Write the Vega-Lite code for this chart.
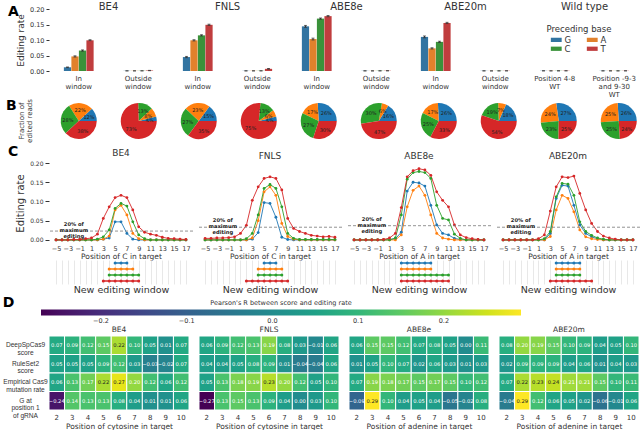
{
  "$schema": "https://vega.github.io/schema/vega-lite/v6.json",
  "padding": {"left": 2, "right": 0, "top": 2, "bottom": 0},
  "background": "white",
  "config": {
    "font": "DejaVu Sans",
    "view": {"stroke": null},
    "axis": {"labelColor": "#333", "titleColor": "#333", "labelFontSize": 7, "titleFontSize": 8, "titleFontWeight": "normal", "domain": false, "tickColor": "#333", "grid": false, "labelOverlap": false},
    "header": {"labelColor": "#333", "labelFontSize": 10},
    "title": {"fontWeight": "normal", "fontSize": 9, "color": "#333"}
  },
  "resolve": {"scale": {"color": "independent"}},
  "spacing": 2,
  "datasets": {
    "bars": [
      {"enz":"BE4","win":"In|window","base":"G","rate":0.012,"lo":0.011,"hi":0.013},
      {"enz":"BE4","win":"In|window","base":"A","rate":0.047,"lo":0.045,"hi":0.049},
      {"enz":"BE4","win":"In|window","base":"C","rate":0.066,"lo":0.064,"hi":0.068},
      {"enz":"BE4","win":"In|window","base":"T","rate":0.099,"lo":0.098,"hi":0.101},
      {"enz":"BE4","win":"Outside|window","base":"G","rate":0.0005,"lo":0.0003,"hi":0.0007},
      {"enz":"BE4","win":"Outside|window","base":"A","rate":0.0005,"lo":0.0003,"hi":0.0007},
      {"enz":"BE4","win":"Outside|window","base":"C","rate":0.0006,"lo":0.0004,"hi":0.0008},
      {"enz":"BE4","win":"Outside|window","base":"T","rate":0.0015,"lo":0.001,"hi":0.002},
      {"enz":"FNLS","win":"In|window","base":"G","rate":0.045,"lo":0.043,"hi":0.047},
      {"enz":"FNLS","win":"In|window","base":"A","rate":0.099,"lo":0.097,"hi":0.101},
      {"enz":"FNLS","win":"In|window","base":"C","rate":0.115,"lo":0.113,"hi":0.117},
      {"enz":"FNLS","win":"In|window","base":"T","rate":0.149,"lo":0.147,"hi":0.151},
      {"enz":"FNLS","win":"Outside|window","base":"G","rate":0.0005,"lo":0.0003,"hi":0.0007},
      {"enz":"FNLS","win":"Outside|window","base":"A","rate":0.0005,"lo":0.0003,"hi":0.0007},
      {"enz":"FNLS","win":"Outside|window","base":"C","rate":0.0006,"lo":0.0004,"hi":0.0008},
      {"enz":"FNLS","win":"Outside|window","base":"T","rate":0.007,"lo":0.006,"hi":0.008},
      {"enz":"ABE8e","win":"In|window","base":"G","rate":0.144,"lo":0.141,"hi":0.147},
      {"enz":"ABE8e","win":"In|window","base":"A","rate":0.103,"lo":0.1,"hi":0.106},
      {"enz":"ABE8e","win":"In|window","base":"C","rate":0.169,"lo":0.167,"hi":0.171},
      {"enz":"ABE8e","win":"In|window","base":"T","rate":0.177,"lo":0.175,"hi":0.179},
      {"enz":"ABE8e","win":"Outside|window","base":"G","rate":0.0005,"lo":0.0003,"hi":0.0007},
      {"enz":"ABE8e","win":"Outside|window","base":"A","rate":0.0004,"lo":0.0002,"hi":0.0006},
      {"enz":"ABE8e","win":"Outside|window","base":"C","rate":0.0006,"lo":0.0004,"hi":0.0008},
      {"enz":"ABE8e","win":"Outside|window","base":"T","rate":0.0008,"lo":0.0006,"hi":0.001},
      {"enz":"ABE20m","win":"In|window","base":"G","rate":0.11,"lo":0.107,"hi":0.113},
      {"enz":"ABE20m","win":"In|window","base":"A","rate":0.073,"lo":0.071,"hi":0.075},
      {"enz":"ABE20m","win":"In|window","base":"C","rate":0.094,"lo":0.092,"hi":0.096},
      {"enz":"ABE20m","win":"In|window","base":"T","rate":0.155,"lo":0.153,"hi":0.157},
      {"enz":"ABE20m","win":"Outside|window","base":"G","rate":0.0005,"lo":0.0003,"hi":0.0007},
      {"enz":"ABE20m","win":"Outside|window","base":"A","rate":0.0003,"lo":0.0002,"hi":0.0005},
      {"enz":"ABE20m","win":"Outside|window","base":"C","rate":0.0005,"lo":0.0003,"hi":0.0007},
      {"enz":"ABE20m","win":"Outside|window","base":"T","rate":0.0006,"lo":0.0004,"hi":0.0008},
      {"enz":"Wild type","win":"Position 4-8| |WT","base":"G","rate":0.0006,"lo":0.0004,"hi":0.0008},
      {"enz":"Wild type","win":"Position 4-8| |WT","base":"A","rate":0.0005,"lo":0.0003,"hi":0.0007},
      {"enz":"Wild type","win":"Position 4-8| |WT","base":"C","rate":0.0006,"lo":0.0004,"hi":0.0008},
      {"enz":"Wild type","win":"Position 4-8| |WT","base":"T","rate":0.0007,"lo":0.0005,"hi":0.0009},
      {"enz":"Wild type","win":"Position -9-3|and 9-30|WT","base":"G","rate":0.0005,"lo":0.0003,"hi":0.0007},
      {"enz":"Wild type","win":"Position -9-3|and 9-30|WT","base":"A","rate":0.0005,"lo":0.0003,"hi":0.0007},
      {"enz":"Wild type","win":"Position -9-3|and 9-30|WT","base":"C","rate":0.0005,"lo":0.0003,"hi":0.0007},
      {"enz":"Wild type","win":"Position -9-3|and 9-30|WT","base":"T","rate":0.0006,"lo":0.0004,"hi":0.0008}
    ],
    "pies": [
      {"col":1,"base":"G","idx":0,"pct":12,"lab":"12%"},{"col":1,"base":"A","idx":1,"pct":22,"lab":"22%"},{"col":1,"base":"C","idx":2,"pct":28,"lab":"28%"},{"col":1,"base":"T","idx":3,"pct":38,"lab":"38%"},
      {"col":2,"base":"G","idx":0,"pct":4,"lab":"4%"},{"col":2,"base":"A","idx":1,"pct":8,"lab":"8%"},{"col":2,"base":"C","idx":2,"pct":13,"lab":"13%"},{"col":2,"base":"T","idx":3,"pct":73,"lab":"73%"},
      {"col":3,"base":"G","idx":0,"pct":15,"lab":"15%"},{"col":3,"base":"A","idx":1,"pct":23,"lab":"23%"},{"col":3,"base":"C","idx":2,"pct":27,"lab":"27%"},{"col":3,"base":"T","idx":3,"pct":35,"lab":"35%"},
      {"col":4,"base":"G","idx":0,"pct":4,"lab":"4%"},{"col":4,"base":"A","idx":1,"pct":6,"lab":"6%"},{"col":4,"base":"C","idx":2,"pct":13,"lab":"13%"},{"col":4,"base":"T","idx":3,"pct":75,"lab":"75%"},
      {"col":5,"base":"G","idx":0,"pct":26,"lab":"26%"},{"col":5,"base":"A","idx":1,"pct":17,"lab":"17%"},{"col":5,"base":"C","idx":2,"pct":27,"lab":"27%"},{"col":5,"base":"T","idx":3,"pct":30,"lab":"30%"},
      {"col":6,"base":"G","idx":0,"pct":16,"lab":"16%"},{"col":6,"base":"A","idx":1,"pct":6,"lab":"6%"},{"col":6,"base":"C","idx":2,"pct":30,"lab":"30%"},{"col":6,"base":"T","idx":3,"pct":47,"lab":"47%"},
      {"col":7,"base":"G","idx":0,"pct":26,"lab":"26%"},{"col":7,"base":"A","idx":1,"pct":17,"lab":"17%"},{"col":7,"base":"C","idx":2,"pct":25,"lab":"25%"},{"col":7,"base":"T","idx":3,"pct":33,"lab":"33%"},
      {"col":8,"base":"G","idx":0,"pct":18,"lab":"18%"},{"col":8,"base":"A","idx":1,"pct":7,"lab":"7%"},{"col":8,"base":"C","idx":2,"pct":19,"lab":"19%"},{"col":8,"base":"T","idx":3,"pct":54,"lab":"54%"},
      {"col":9,"base":"G","idx":0,"pct":27,"lab":"27%"},{"col":9,"base":"A","idx":1,"pct":24,"lab":"24%"},{"col":9,"base":"C","idx":2,"pct":23,"lab":"23%"},{"col":9,"base":"T","idx":3,"pct":25,"lab":"25%"},
      {"col":10,"base":"G","idx":0,"pct":26,"lab":"26%"},{"col":10,"base":"A","idx":1,"pct":25,"lab":"25%"},{"col":10,"base":"C","idx":2,"pct":25,"lab":"25%"},{"col":10,"base":"T","idx":3,"pct":24,"lab":"24%"}
    ],
    "lines": [
      {"enz":"BE4","base":"G","pos":[-5,-4,-3,-2,-1,0,1,2,3,4,5,6,7,8,9,10,11,12,13,14,15,16,17],"rate":[0,0,0,0,0,0,0,0,0.002,0.005,0.047,0.047,0.017,0.002,0,0,0,0,0,0,0,0,0]},
      {"enz":"BE4","base":"A","pos":[-5,-4,-3,-2,-1,0,1,2,3,4,5,6,7,8,9,10,11,12,13,14,15,16,17],"rate":[0,0,0,0,0,0,0,0,0.002,0.01,0.078,0.09,0.065,0.017,0.003,0,0,0,0,0,0,0,0]},
      {"enz":"BE4","base":"C","pos":[-5,-4,-3,-2,-1,0,1,2,3,4,5,6,7,8,9,10,11,12,13,14,15,16,17],"rate":[0,0,0,0,0,0,0,0.002,0.008,0.026,0.082,0.095,0.088,0.047,0.013,0.003,0,0,0,0,0,0,0]},
      {"enz":"BE4","base":"T","pos":[-5,-4,-3,-2,-1,0,1,2,3,4,5,6,7,8,9,10,11,12,13,14,15,16,17],"rate":[0,0,0,0.001,0.001,0.003,0.005,0.015,0.056,0.086,0.11,0.116,0.11,0.078,0.034,0.02,0.015,0.012,0.007,0.004,0.003,0.002,0.001]},
      {"enz":"FNLS","base":"G","pos":[-5,-4,-3,-2,-1,0,1,2,3,4,5,6,7,8,9,10,11,12,13,14,15,16,17],"rate":[0,0,0,0,0,0,0,0,0.002,0.019,0.097,0.095,0.059,0.007,0.001,0,0,0,0,0,0,0,0]},
      {"enz":"FNLS","base":"A","pos":[-5,-4,-3,-2,-1,0,1,2,3,4,5,6,7,8,9,10,11,12,13,14,15,16,17],"rate":[0,0,0,0,0,0,0,0,0.005,0.05,0.125,0.138,0.116,0.043,0.009,0.002,0,0,0,0,0,0,0]},
      {"enz":"FNLS","base":"C","pos":[-5,-4,-3,-2,-1,0,1,2,3,4,5,6,7,8,9,10,11,12,13,14,15,16,17],"rate":[0,0,0,0,0,0,0,0.003,0.017,0.065,0.134,0.144,0.134,0.086,0.017,0.004,0.001,0.001,0.001,0.001,0.001,0.001,0.001]},
      {"enz":"FNLS","base":"T","pos":[-5,-4,-3,-2,-1,0,1,2,3,4,5,6,7,8,9,10,11,12,13,14,15,16,17],"rate":[0.004,0.004,0.005,0.005,0.006,0.008,0.017,0.038,0.103,0.138,0.16,0.164,0.16,0.13,0.056,0.03,0.022,0.017,0.012,0.01,0.008,0.009,0.007]},
      {"enz":"ABE8e","base":"G","pos":[-5,-4,-3,-2,-1,0,1,2,3,4,5,6,7,8,9,10,11,12,13,14,15,16,17],"rate":[0,0,0,0,0,0,0.001,0.003,0.02,0.127,0.15,0.148,0.14,0.09,0.039,0.017,0.013,0.004,0.001,0,0,0,0]},
      {"enz":"ABE8e","base":"A","pos":[-5,-4,-3,-2,-1,0,1,2,3,4,5,6,7,8,9,10,11,12,13,14,15,16,17],"rate":[0,0,0,0,0,0,0,0,0.013,0.086,0.129,0.14,0.116,0.065,0.017,0.005,0.002,0,0,0,0,0,0]},
      {"enz":"ABE8e","base":"C","pos":[-5,-4,-3,-2,-1,0,1,2,3,4,5,6,7,8,9,10,11,12,13,14,15,16,17],"rate":[0,0,0,0,0,0,0,0.005,0.065,0.158,0.175,0.178,0.175,0.16,0.09,0.056,0.052,0.015,0.004,0,0,0,0]},
      {"enz":"ABE8e","base":"T","pos":[-5,-4,-3,-2,-1,0,1,2,3,4,5,6,7,8,9,10,11,12,13,14,15,16,17],"rate":[0,0,0,0,0,0.001,0.005,0.017,0.084,0.164,0.18,0.185,0.182,0.168,0.125,0.103,0.086,0.039,0.013,0.006,0.003,0.001,0]},
      {"enz":"ABE20m","base":"G","pos":[-5,-4,-3,-2,-1,0,1,2,3,4,5,6,7,8,9,10,11,12,13,14,15,16,17],"rate":[0,0,0,0,0,0,0,0,0.017,0.108,0.142,0.14,0.09,0.039,0.017,0.008,0.003,0,0,0,0,0,0]},
      {"enz":"ABE20m","base":"A","pos":[-5,-4,-3,-2,-1,0,1,2,3,4,5,6,7,8,9,10,11,12,13,14,15,16,17],"rate":[0,0,0,0,0,0,0,0,0.009,0.078,0.116,0.108,0.073,0.026,0.008,0.003,0.001,0,0,0,0,0,0]},
      {"enz":"ABE20m","base":"C","pos":[-5,-4,-3,-2,-1,0,1,2,3,4,5,6,7,8,9,10,11,12,13,14,15,16,17],"rate":[0,0,0,0,0,0,0,0.003,0.022,0.112,0.147,0.145,0.116,0.047,0.022,0.012,0.005,0.002,0,0,0,0,0]},
      {"enz":"ABE20m","base":"T","pos":[-5,-4,-3,-2,-1,0,1,2,3,4,5,6,7,8,9,10,11,12,13,14,15,16,17],"rate":[0,0,0,0,0,0,0.003,0.013,0.075,0.138,0.164,0.162,0.166,0.121,0.078,0.043,0.022,0.01,0.005,0.002,0,0,0]}
    ],
    "thr": [
      {"enz":"BE4","thr":0.023,"pos":-2,"txt":"20% of|maximum|editing"},
      {"enz":"FNLS","thr":0.033,"pos":-2,"txt":"20% of|maximum|editing"},
      {"enz":"ABE8e","thr":0.037,"pos":-2,"txt":"20% of|maximum|editing"},
      {"enz":"ABE20m","thr":0.033,"pos":-2,"txt":"20% of|maximum|editing"}
    ],
    "win": [
      {"enz":"BE4","base":"G","pos":[5,6,7]},
      {"enz":"BE4","base":"A","pos":[4,5,6,7,8]},
      {"enz":"BE4","base":"C","pos":[4,5,6,7,8,9]},
      {"enz":"BE4","base":"T","pos":[3,4,5,6,7,8,9]},
      {"enz":"FNLS","base":"G","pos":[5,6,7]},
      {"enz":"FNLS","base":"A","pos":[4,5,6,7,8]},
      {"enz":"FNLS","base":"C","pos":[4,5,6,7,8]},
      {"enz":"FNLS","base":"T","pos":[2,3,4,5,6,7,8,9]},
      {"enz":"ABE8e","base":"G","pos":[3,4,5,6,7,8]},
      {"enz":"ABE8e","base":"A","pos":[3,4,5,6,7,8]},
      {"enz":"ABE8e","base":"C","pos":[3,4,5,6,7,8,9,10,11]},
      {"enz":"ABE8e","base":"T","pos":[3,4,5,6,7,8,9,10,11]},
      {"enz":"ABE20m","base":"G","pos":[4,5,6,7,8]},
      {"enz":"ABE20m","base":"A","pos":[4,5,6,7,8]},
      {"enz":"ABE20m","base":"C","pos":[4,5,6,7,8]},
      {"enz":"ABE20m","base":"T","pos":[3,4,5,6,7,8,9,10]}
    ],
    "heat": [
      {"enz":"BE4","score":"DeepSpCas9|score","pos":[2,3,4,5,6,7,8,9,10],"r":[0.07,0.09,0.12,0.15,0.22,0.10,0.05,0.01,0.07]},
      {"enz":"BE4","score":"RuleSet2|score","pos":[2,3,4,5,6,7,8,9,10],"r":[0.05,0.05,0.05,0.09,0.12,0.03,-0.03,-0.02,0.07]},
      {"enz":"BE4","score":"Empirical Cas9|mutation rate","pos":[2,3,4,5,6,7,8,9,10],"r":[0.06,0.13,0.17,0.22,0.27,0.20,0.12,0.06,0.12]},
      {"enz":"BE4","score":"G at|position 1|of gRNA","pos":[2,3,4,5,6,7,8,9,10],"r":[-0.24,0.14,0.13,0.13,0.08,0.04,0.01,0.01,0.06]},
      {"enz":"FNLS","score":"DeepSpCas9|score","pos":[2,3,4,5,6,7,8,9,10],"r":[0.06,0.09,0.12,0.13,0.19,0.08,0.03,-0.01,0.06]},
      {"enz":"FNLS","score":"RuleSet2|score","pos":[2,3,4,5,6,7,8,9,10],"r":[0.04,0.04,0.05,0.08,0.09,0.01,-0.04,-0.04,0.06]},
      {"enz":"FNLS","score":"Empirical Cas9|mutation rate","pos":[2,3,4,5,6,7,8,9,10],"r":[0.05,0.13,0.18,0.19,0.23,0.20,0.12,0.05,0.10]},
      {"enz":"FNLS","score":"G at|position 1|of gRNA","pos":[2,3,4,5,6,7,8,9,10],"r":[-0.27,0.13,0.15,0.13,0.09,0.04,0.00,0.03,0.10]},
      {"enz":"ABE8e","score":"DeepSpCas9|score","pos":[2,3,4,5,6,7,8,9,10],"r":[0.06,0.15,0.15,0.12,0.07,0.08,0.05,0.00,0.11]},
      {"enz":"ABE8e","score":"RuleSet2|score","pos":[2,3,4,5,6,7,8,9,10],"r":[0.01,0.05,0.10,0.07,0.02,0.06,0.03,0.01,0.03]},
      {"enz":"ABE8e","score":"Empirical Cas9|mutation rate","pos":[2,3,4,5,6,7,8,9,10],"r":[0.07,0.19,0.18,0.17,0.15,0.17,0.15,0.10,0.12]},
      {"enz":"ABE8e","score":"G at|position 1|of gRNA","pos":[2,3,4,5,6,7,8,9,10],"r":[-0.09,0.29,0.10,0.04,0.05,0.04,-0.05,-0.02,0.08]},
      {"enz":"ABE20m","score":"DeepSpCas9|score","pos":[2,3,4,5,6,7,8,9,10],"r":[0.08,0.20,0.19,0.15,0.10,0.09,0.04,0.05,0.10]},
      {"enz":"ABE20m","score":"RuleSet2|score","pos":[2,3,4,5,6,7,8,9,10],"r":[0.02,0.09,0.09,0.09,0.04,0.06,0.01,0.04,0.03]},
      {"enz":"ABE20m","score":"Empirical Cas9|mutation rate","pos":[2,3,4,5,6,7,8,9,10],"r":[0.07,0.22,0.23,0.24,0.21,0.21,0.15,0.10,0.11]},
      {"enz":"ABE20m","score":"G at|position 1|of gRNA","pos":[2,3,4,5,6,7,8,9,10],"r":[-0.04,0.29,0.12,0.06,0.05,0.02,-0.06,-0.01,0.06]}
    ]
  },
  "vconcat": [
    {
      "data": {"name": "bars"},
      "title": {"text": "A", "anchor": "start", "frame": "group", "fontSize": 14, "fontWeight": "bold", "color": "black", "dy": 21, "dx": -41},
      "facet": {"column": {"field": "enz", "type": "nominal", "sort": ["BE4","FNLS","ABE8e","ABE20m","Wild type"], "header": {"title": null, "labelFontSize": 10, "labelPadding": -3}}},
      "spacing": 0,
      "resolve": {"scale": {"x": "independent", "xOffset": "independent"}},
      "spec": {
        "width": 119, "height": 62,
        "encoding": {
          "x": {"field": "win", "type": "nominal", "sort": null, "scale": {"paddingInner": 0.5, "paddingOuter": 0.25}, "axis": {"title": null, "labelAngle": 0, "labelExpr": "split(datum.value, '|')", "ticks": false, "labelFontSize": 7, "labelLineHeight": 8, "labelPadding": 3, "labelOverlap": false}},
          "xOffset": {"field": "base", "type": "nominal", "sort": ["G","A","C","T"], "scale": {"paddingInner": 0.04}}
        },
        "layer": [
          {"mark": {"type": "bar"}, "encoding": {
            "y": {"field": "rate", "type": "quantitative", "scale": {"domain": [0, 0.2], "nice": false}, "axis": {"title": "Editing rate", "titleFontSize": 9, "values": [0, 0.05, 0.1, 0.15, 0.2], "tickCount": 20, "format": ".2f", "labelFontSize": 6.5, "tickSize": 3, "labelOverlap": false}},
            "color": {"field": "base", "type": "nominal", "scale": {"domain": ["G","C","A","T"], "range": ["#3274a1","#3a923a","#e1812c","#c03d3e"]},
              "legend": {"title": "Preceding base", "orient": "none", "legendX": 498, "legendY": 16, "columns": 2, "symbolType": "M-1.4,-0.55H1.4V0.55H-1.4Z", "symbolSize": 60, "titleFontSize": 8.5, "titleFontWeight": "normal", "labelFontSize": 8.5, "titleAnchor": "middle", "titlePadding": 2, "columnPadding": 14, "rowPadding": 0, "titleColor": "#333", "labelColor": "#333", "symbolStrokeWidth": 0, "symbolOpacity": 1}}
          }},
          {"mark": {"type": "rule", "color": "#333", "strokeWidth": 1}, "encoding": {"y": {"field": "lo", "type": "quantitative"}, "y2": {"field": "hi"}}},
          {"mark": {"type": "tick", "color": "#333", "thickness": 1, "size": 3}, "encoding": {"y": {"field": "hi", "type": "quantitative"}}},
          {"mark": {"type": "tick", "color": "#333", "thickness": 1, "size": 3}, "encoding": {"y": {"field": "lo", "type": "quantitative"}}}
        ]
      }
    },
    {
      "data": {"name": "pies"},
      "transform": [{"calculate": "'Fraction of|edited reads'", "as": "ylab"}],
      "title": {"text": "B", "anchor": "start", "frame": "group", "fontSize": 14, "fontWeight": "bold", "color": "black", "dy": 18, "dx": -43},
      "facet": {
        "column": {"field": "col", "type": "ordinal", "header": {"labels": false, "title": null}},
        "row": {"field": "ylab", "type": "nominal", "header": {"title": null, "labelOrient": "left", "labelAngle": -90, "labelExpr": "split(datum.value, '|')", "labelFontSize": 7, "labelPadding": 12, "labelLineHeight": 8}}
      },
      "spacing": {"column": 0, "row": 0},
      "spec": {
        "width": 59.5, "height": 40,
        "encoding": {
          "theta": {"field": "pct", "type": "quantitative", "stack": "normalize", "scale": {"range": [1.5708, -4.7124]}},
          "order": {"field": "idx", "type": "quantitative"}
        },
        "layer": [
          {"mark": {"type": "arc", "radius": 18}, "encoding": {"color": {"field": "base", "type": "nominal", "scale": {"domain": ["G","A","C","T"], "range": ["#1f77b4","#ff7f0e","#2ca02c","#d62728"]}, "legend": null}}},
          {"mark": {"type": "text", "radius": 11, "fontSize": 5, "color": "#222"}, "encoding": {"text": {"field": "lab"}, "detail": {"field": "base"}}}
        ]
      }
    },
    {
      "title": {"text": "C", "anchor": "start", "frame": "group", "fontSize": 14, "fontWeight": "bold", "color": "black", "dy": 14, "dx": -41},
      "spacing": 3,
      "hconcat": [
        {"spacing": 0, "vconcat": [
          {"width": 144, "height": 80, "title": {"text": "BE4", "offset": 2},
           "layer": [
             {"data": {"name": "lines"}, "transform": [{"filter": "datum.enz == 'BE4'"}, {"flatten": ["pos", "rate"]}],
              "encoding": {
                "x": {"field": "pos", "type": "quantitative", "scale": {"domain": [-6.2, 18.2], "nice": false, "zero": false}, "axis": {"values": [-5,-3,-1,1,3,5,7,9,11,13,15,17], "tickCount": 40, "format": "d", "title": "Position of C in target", "ticks": false, "labelPadding": 2, "labelFontSize": 6.5, "titleFontSize": 7.5, "titlePadding": 1, "labelOverlap": false}},
                "y": {"field": "rate", "type": "quantitative", "scale": {"domain": [-0.008, 0.2], "nice": false, "zero": false}, "axis": {"values": [0, 0.05, 0.1, 0.15, 0.2], "tickCount": 20, "format": ".2f", "title": "Editing rate", "titleFontSize": 10, "labelFontSize": 6, "tickSize": 4, "labelOverlap": false}},
                "color": {"field": "base", "type": "nominal", "scale": {"domain": ["G","A","C","T"], "range": ["#1f77b4","#ff7f0e","#2ca02c","#d62728"]}, "legend": null}
              },
              "layer": [{"mark": {"type": "line", "strokeWidth": 0.9}}, {"mark": {"type": "circle", "size": 8, "opacity": 1}}]},
             {"data": {"name": "thr"}, "transform": [{"filter": "datum.enz == 'BE4'"}],
              "layer": [
                {"mark": {"type": "rule", "strokeDash": [3, 2], "color": "#777", "strokeWidth": 0.8}, "encoding": {"y": {"field": "thr", "type": "quantitative"}}},
                {"mark": {"type": "text", "lineBreak": "|", "fontSize": 5.2, "fontWeight": "bold", "baseline": "bottom", "dy": -4, "color": "#222", "lineHeight": 6}, "encoding": {"x": {"field": "pos", "type": "quantitative"}, "y": {"field": "thr", "type": "quantitative"}, "text": {"field": "txt"}}}
              ]}
           ]},
          {"width": 144, "height": 24,
           "data": {"name": "win"}, "transform": [{"filter": "datum.enz == 'BE4'"}, {"flatten": ["pos"]}],
           "encoding": {
             "x": {"field": "pos", "type": "quantitative", "scale": {"domain": [-6.2, 18.2], "nice": false, "zero": false}, "axis": {"title": "New editing window", "titleFontSize": 9.5, "labels": false, "ticks": false, "grid": true, "gridColor": "#e2e2e2", "gridWidth": 0.8, "values": [-5,-4,-3,-2,-1,0,1,2,3,4,5,6,7,8,9,10,11,12,13,14,15,16,17], "tickCount": 40, "titlePadding": 0}},
             "y": {"field": "base", "type": "nominal", "sort": ["G","A","C","T"], "axis": null, "scale": {"padding": 0.5}},
             "color": {"field": "base", "type": "nominal", "legend": null}
           },
           "layer": [{"mark": {"type": "line", "strokeWidth": 1.5}}, {"mark": {"type": "circle", "size": 9, "opacity": 1}}]}
        ]},
        {"spacing": 0, "vconcat": [
          {"width": 144, "height": 80, "title": {"text": "FNLS", "offset": 2},
           "layer": [
             {"data": {"name": "lines"}, "transform": [{"filter": "datum.enz == 'FNLS'"}, {"flatten": ["pos", "rate"]}],
              "encoding": {
                "x": {"field": "pos", "type": "quantitative", "scale": {"domain": [-6.2, 18.2], "nice": false, "zero": false}, "axis": {"values": [-5,-3,-1,1,3,5,7,9,11,13,15,17], "tickCount": 40, "format": "d", "title": "Position of C in target", "ticks": false, "labelPadding": 2, "labelFontSize": 6.5, "titleFontSize": 7.5, "titlePadding": 1, "labelOverlap": false}},
                "y": {"field": "rate", "type": "quantitative", "scale": {"domain": [-0.008, 0.2], "nice": false, "zero": false}, "axis": null},
                "color": {"field": "base", "type": "nominal", "legend": null}
              },
              "layer": [{"mark": {"type": "line", "strokeWidth": 0.9}}, {"mark": {"type": "circle", "size": 8, "opacity": 1}}]},
             {"data": {"name": "thr"}, "transform": [{"filter": "datum.enz == 'FNLS'"}],
              "layer": [
                {"mark": {"type": "rule", "strokeDash": [3, 2], "color": "#777", "strokeWidth": 0.8}, "encoding": {"y": {"field": "thr", "type": "quantitative", "axis": null}}},
                {"mark": {"type": "text", "lineBreak": "|", "fontSize": 5.2, "fontWeight": "bold", "baseline": "bottom", "dy": -4, "color": "#222", "lineHeight": 6}, "encoding": {"x": {"field": "pos", "type": "quantitative"}, "y": {"field": "thr", "type": "quantitative", "axis": null}, "text": {"field": "txt"}}}
              ]}
           ]},
          {"width": 144, "height": 24,
           "data": {"name": "win"}, "transform": [{"filter": "datum.enz == 'FNLS'"}, {"flatten": ["pos"]}],
           "encoding": {
             "x": {"field": "pos", "type": "quantitative", "scale": {"domain": [-6.2, 18.2], "nice": false, "zero": false}, "axis": {"title": "New editing window", "titleFontSize": 9.5, "labels": false, "ticks": false, "grid": true, "gridColor": "#e2e2e2", "gridWidth": 0.8, "values": [-5,-4,-3,-2,-1,0,1,2,3,4,5,6,7,8,9,10,11,12,13,14,15,16,17], "tickCount": 40, "titlePadding": 0}},
             "y": {"field": "base", "type": "nominal", "sort": ["G","A","C","T"], "axis": null, "scale": {"padding": 0.5}},
             "color": {"field": "base", "type": "nominal", "legend": null}
           },
           "layer": [{"mark": {"type": "line", "strokeWidth": 1.5}}, {"mark": {"type": "circle", "size": 9, "opacity": 1}}]}
        ]},
        {"spacing": 0, "vconcat": [
          {"width": 144, "height": 80, "title": {"text": "ABE8e", "offset": 2},
           "layer": [
             {"data": {"name": "lines"}, "transform": [{"filter": "datum.enz == 'ABE8e'"}, {"flatten": ["pos", "rate"]}],
              "encoding": {
                "x": {"field": "pos", "type": "quantitative", "scale": {"domain": [-6.2, 18.2], "nice": false, "zero": false}, "axis": {"values": [-5,-3,-1,1,3,5,7,9,11,13,15,17], "tickCount": 40, "format": "d", "title": "Position of A in target", "ticks": false, "labelPadding": 2, "labelFontSize": 6.5, "titleFontSize": 7.5, "titlePadding": 1, "labelOverlap": false}},
                "y": {"field": "rate", "type": "quantitative", "scale": {"domain": [-0.008, 0.2], "nice": false, "zero": false}, "axis": null},
                "color": {"field": "base", "type": "nominal", "legend": null}
              },
              "layer": [{"mark": {"type": "line", "strokeWidth": 0.9}}, {"mark": {"type": "circle", "size": 8, "opacity": 1}}]},
             {"data": {"name": "thr"}, "transform": [{"filter": "datum.enz == 'ABE8e'"}],
              "layer": [
                {"mark": {"type": "rule", "strokeDash": [3, 2], "color": "#777", "strokeWidth": 0.8}, "encoding": {"y": {"field": "thr", "type": "quantitative", "axis": null}}},
                {"mark": {"type": "text", "lineBreak": "|", "fontSize": 5.2, "fontWeight": "bold", "baseline": "bottom", "dy": -4, "color": "#222", "lineHeight": 6}, "encoding": {"x": {"field": "pos", "type": "quantitative"}, "y": {"field": "thr", "type": "quantitative", "axis": null}, "text": {"field": "txt"}}}
              ]}
           ]},
          {"width": 144, "height": 24,
           "data": {"name": "win"}, "transform": [{"filter": "datum.enz == 'ABE8e'"}, {"flatten": ["pos"]}],
           "encoding": {
             "x": {"field": "pos", "type": "quantitative", "scale": {"domain": [-6.2, 18.2], "nice": false, "zero": false}, "axis": {"title": "New editing window", "titleFontSize": 9.5, "labels": false, "ticks": false, "grid": true, "gridColor": "#e2e2e2", "gridWidth": 0.8, "values": [-5,-4,-3,-2,-1,0,1,2,3,4,5,6,7,8,9,10,11,12,13,14,15,16,17], "tickCount": 40, "titlePadding": 0}},
             "y": {"field": "base", "type": "nominal", "sort": ["G","A","C","T"], "axis": null, "scale": {"padding": 0.5}},
             "color": {"field": "base", "type": "nominal", "legend": null}
           },
           "layer": [{"mark": {"type": "line", "strokeWidth": 1.5}}, {"mark": {"type": "circle", "size": 9, "opacity": 1}}]}
        ]},
        {"spacing": 0, "vconcat": [
          {"width": 144, "height": 80, "title": {"text": "ABE20m", "offset": 2},
           "layer": [
             {"data": {"name": "lines"}, "transform": [{"filter": "datum.enz == 'ABE20m'"}, {"flatten": ["pos", "rate"]}],
              "encoding": {
                "x": {"field": "pos", "type": "quantitative", "scale": {"domain": [-6.2, 18.2], "nice": false, "zero": false}, "axis": {"values": [-5,-3,-1,1,3,5,7,9,11,13,15,17], "tickCount": 40, "format": "d", "title": "Position of A in target", "ticks": false, "labelPadding": 2, "labelFontSize": 6.5, "titleFontSize": 7.5, "titlePadding": 1, "labelOverlap": false}},
                "y": {"field": "rate", "type": "quantitative", "scale": {"domain": [-0.008, 0.2], "nice": false, "zero": false}, "axis": null},
                "color": {"field": "base", "type": "nominal", "legend": null}
              },
              "layer": [{"mark": {"type": "line", "strokeWidth": 0.9}}, {"mark": {"type": "circle", "size": 8, "opacity": 1}}]},
             {"data": {"name": "thr"}, "transform": [{"filter": "datum.enz == 'ABE20m'"}],
              "layer": [
                {"mark": {"type": "rule", "strokeDash": [3, 2], "color": "#777", "strokeWidth": 0.8}, "encoding": {"y": {"field": "thr", "type": "quantitative", "axis": null}}},
                {"mark": {"type": "text", "lineBreak": "|", "fontSize": 5.2, "fontWeight": "bold", "baseline": "bottom", "dy": -4, "color": "#222", "lineHeight": 6}, "encoding": {"x": {"field": "pos", "type": "quantitative"}, "y": {"field": "thr", "type": "quantitative", "axis": null}, "text": {"field": "txt"}}}
              ]}
           ]},
          {"width": 144, "height": 24,
           "data": {"name": "win"}, "transform": [{"filter": "datum.enz == 'ABE20m'"}, {"flatten": ["pos"]}],
           "encoding": {
             "x": {"field": "pos", "type": "quantitative", "scale": {"domain": [-6.2, 18.2], "nice": false, "zero": false}, "axis": {"title": "New editing window", "titleFontSize": 9.5, "labels": false, "ticks": false, "grid": true, "gridColor": "#e2e2e2", "gridWidth": 0.8, "values": [-5,-4,-3,-2,-1,0,1,2,3,4,5,6,7,8,9,10,11,12,13,14,15,16,17], "tickCount": 40, "titlePadding": 0}},
             "y": {"field": "base", "type": "nominal", "sort": ["G","A","C","T"], "axis": null, "scale": {"padding": 0.5}},
             "color": {"field": "base", "type": "nominal", "legend": null}
           },
           "layer": [{"mark": {"type": "line", "strokeWidth": 1.5}}, {"mark": {"type": "circle", "size": 9, "opacity": 1}}]}
        ]}
      ]
    },
    {
      "title": {"text": "D", "anchor": "start", "frame": "bounds", "fontSize": 14, "fontWeight": "bold", "color": "black", "dy": 14},
      "data": {"name": "heat"},
      "transform": [{"flatten": ["pos", "r"]}],
      "spacing": 8,
      "hconcat": [
        {"width": 140, "height": 74, "title": {"text": "BE4", "fontSize": 7.5, "offset": 2},
         "transform": [{"filter": "datum.enz == 'BE4'"}],
         "encoding": {
           "x": {"field": "pos", "type": "ordinal", "axis": {"title": "Position of cytosine in target", "labelAngle": 0, "ticks": false, "labelFontSize": 7, "titleFontSize": 7.5, "titlePadding": 2, "labelPadding": 3}},
           "y": {"field": "score", "type": "nominal", "sort": ["DeepSpCas9|score","RuleSet2|score","Empirical Cas9|mutation rate","G at|position 1|of gRNA"], "axis": {"title": null, "labelExpr": "split(datum.value, '|')", "ticks": false, "labelFont": "Liberation Sans", "labelFontSize": 6.6, "labelLineHeight": 7.5, "labelAlign": "center", "labelPadding": 24}}
         },
         "layer": [
           {"mark": {"type": "rect", "stroke": "white", "strokeWidth": 1}, "encoding": {"color": {"field": "r", "type": "quantitative", "scale": {"scheme": "viridis", "domain": [-0.27, 0.29]}, "legend": {"orient": "none", "legendX": -8, "legendY": -36, "direction": "horizontal", "gradientLength": 480, "gradientThickness": 6, "title": "Pearson's R between score and editing rate", "titleAnchor": "middle", "titleFontSize": 6.5, "titleFontWeight": "normal", "titleColor": "#333", "labelFontSize": 6.5, "labelColor": "#333", "values": [-0.2, -0.1, 0, 0.1, 0.2], "format": ".1f", "titlePadding": 3}}}},
           {"mark": {"type": "text", "fontSize": 5.2}, "encoding": {"text": {"field": "r", "type": "quantitative", "format": ".2f"}, "color": {"condition": {"test": "datum.r > 0.215", "value": "#222"}, "value": "white"}}}
         ]},
        {"width": 140, "height": 74, "title": {"text": "FNLS", "fontSize": 7.5, "offset": 2},
         "transform": [{"filter": "datum.enz == 'FNLS'"}],
         "encoding": {
           "x": {"field": "pos", "type": "ordinal", "axis": {"title": "Position of cytosine in target", "labelAngle": 0, "ticks": false, "labelFontSize": 7, "titleFontSize": 7.5, "titlePadding": 2, "labelPadding": 3}},
           "y": {"field": "score", "type": "nominal", "sort": ["DeepSpCas9|score","RuleSet2|score","Empirical Cas9|mutation rate","G at|position 1|of gRNA"], "axis": null}
         },
         "layer": [
           {"mark": {"type": "rect", "stroke": "white", "strokeWidth": 1}, "encoding": {"color": {"field": "r", "type": "quantitative"}}},
           {"mark": {"type": "text", "fontSize": 5.2}, "encoding": {"text": {"field": "r", "type": "quantitative", "format": ".2f"}, "color": {"condition": {"test": "datum.r > 0.215", "value": "#222"}, "value": "white"}}}
         ]},
        {"width": 140, "height": 74, "title": {"text": "ABE8e", "fontSize": 7.5, "offset": 2},
         "transform": [{"filter": "datum.enz == 'ABE8e'"}],
         "encoding": {
           "x": {"field": "pos", "type": "ordinal", "axis": {"title": "Position of adenine in target", "labelAngle": 0, "ticks": false, "labelFontSize": 7, "titleFontSize": 7.5, "titlePadding": 2, "labelPadding": 3}},
           "y": {"field": "score", "type": "nominal", "sort": ["DeepSpCas9|score","RuleSet2|score","Empirical Cas9|mutation rate","G at|position 1|of gRNA"], "axis": null}
         },
         "layer": [
           {"mark": {"type": "rect", "stroke": "white", "strokeWidth": 1}, "encoding": {"color": {"field": "r", "type": "quantitative"}}},
           {"mark": {"type": "text", "fontSize": 5.2}, "encoding": {"text": {"field": "r", "type": "quantitative", "format": ".2f"}, "color": {"condition": {"test": "datum.r > 0.215", "value": "#222"}, "value": "white"}}}
         ]},
        {"width": 140, "height": 74, "title": {"text": "ABE20m", "fontSize": 7.5, "offset": 2},
         "transform": [{"filter": "datum.enz == 'ABE20m'"}],
         "encoding": {
           "x": {"field": "pos", "type": "ordinal", "axis": {"title": "Position of adenine in target", "labelAngle": 0, "ticks": false, "labelFontSize": 7, "titleFontSize": 7.5, "titlePadding": 2, "labelPadding": 3}},
           "y": {"field": "score", "type": "nominal", "sort": ["DeepSpCas9|score","RuleSet2|score","Empirical Cas9|mutation rate","G at|position 1|of gRNA"], "axis": null}
         },
         "layer": [
           {"mark": {"type": "rect", "stroke": "white", "strokeWidth": 1}, "encoding": {"color": {"field": "r", "type": "quantitative"}}},
           {"mark": {"type": "text", "fontSize": 5.2}, "encoding": {"text": {"field": "r", "type": "quantitative", "format": ".2f"}, "color": {"condition": {"test": "datum.r > 0.215", "value": "#222"}, "value": "white"}}}
         ]}
      ]
    }
  ]
}
